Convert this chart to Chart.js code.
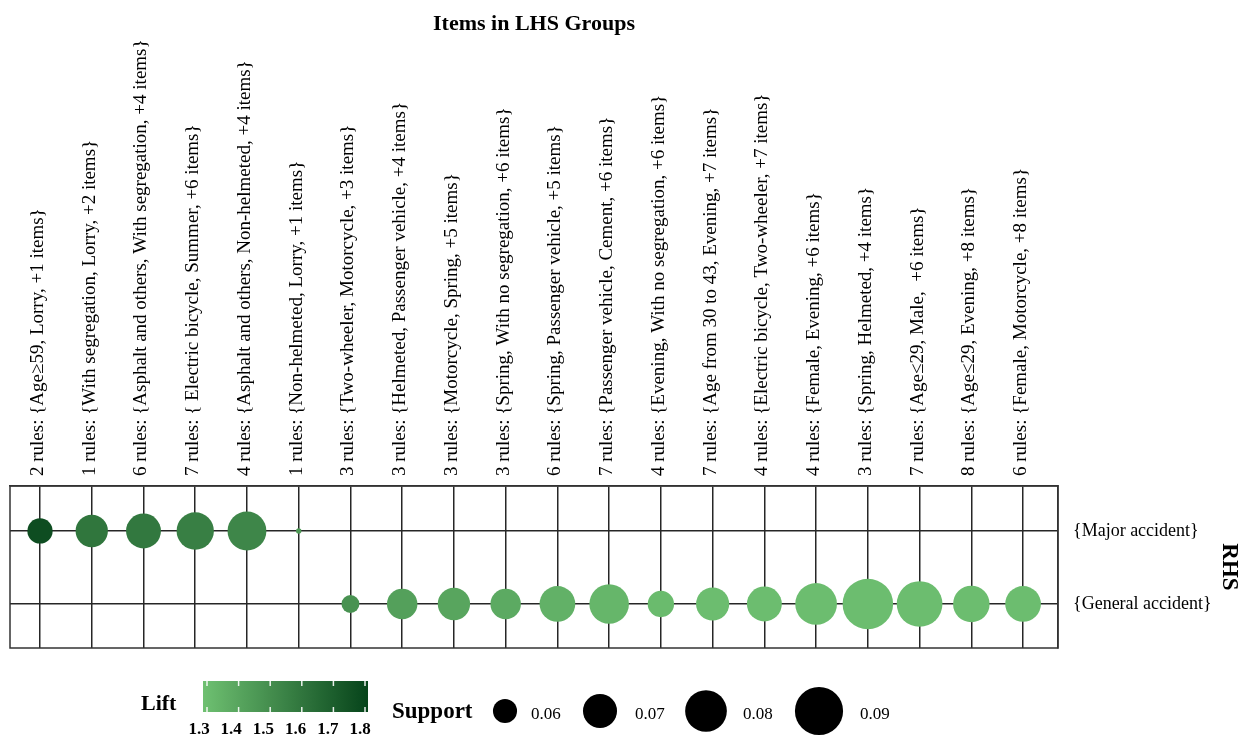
<!DOCTYPE html>
<html><head><meta charset="utf-8">
<script src="https://cdn.jsdelivr.net/npm/chart.js@4.4.0/dist/chart.umd.min.js"></script>
<style>html,body{margin:0;padding:0;background:#fff;}#wrap{position:relative;width:1247px;height:740px;}</style>
</head><body><div id="wrap"><canvas id="c" width="1247" height="740"></canvas></div>
<script>
// ---- data ----
const lhsGroups = [
  '2 rules: {Age\u226559, Lorry, +1 items}',
  '1 rules: {With segregation, Lorry, +2 items}',
  '6 rules: {Asphalt and others, With segregation, +4 items}',
  '7 rules: { Electric bicycle, Summer, +6 items}',
  '4 rules: {Asphalt and others, Non-helmeted, +4 items}',
  '1 rules: {Non-helmeted, Lorry, +1 items}',
  '3 rules: {Two-wheeler, Motorcycle, +3 items}',
  '3 rules: {Helmeted, Passenger vehicle, +4 items}',
  '3 rules: {Motorcycle, Spring, +5 items}',
  '3 rules: {Spring, With no segregation, +6 items}',
  '6 rules: {Spring, Passenger vehicle, +5 items}',
  '7 rules: {Passenger vehicle, Cement, +6 items}',
  '4 rules: {Evening, With no segregation, +6 items}',
  '7 rules: {Age from 30 to 43, Evening, +7 items}',
  '4 rules: {Electric bicycle, Two-wheeler, +7 items}',
  '4 rules: {Female, Evening, +6 items}',
  '3 rules: {Spring, Helmeted, +4 items}',
  '7 rules: {Age\u226429, Male,  +6 items}',
  '8 rules: {Age\u226429, Evening, +8 items}',
  '6 rules: {Female, Motorcycle, +8 items}'
];
const rhsItems = ['{Major accident}', '{General accident}'];
const rhsIndex = [0,0,0,0,0,0,1,1,1,1,1,1,1,1,1,1,1,1,1,1];
const support = [0.061,0.068,0.071,0.074,0.076,0.0505,0.0555,0.066,0.068,0.066,0.072,0.077,0.062,0.069,0.071,0.080,0.094,0.086,0.073,0.072];
const lift    = [1.77,1.60,1.59,1.56,1.53,1.45,1.48,1.42,1.40,1.38,1.35,1.33,1.31,1.30,1.30,1.30,1.30,1.30,1.30,1.30];
const liftTicks = [1.3,1.4,1.5,1.6,1.7,1.8];
const supportTicks = [0.06,0.07,0.08,0.09];

// ---- encodings ----
const SERIF = "'Liberation Serif','Times New Roman',serif";
function liftColor(l){
  const lo=[108,189,111], hi=[8,70,28];
  let t=(l-1.3)/0.5; t=Math.max(-0.05,Math.min(1.05,t));
  const c=lo.map((v,i)=>Math.round(v+(hi[i]-v)*t));
  return `rgb(${c[0]},${c[1]},${c[2]})`;
}
function supportRadius(s){
  return Math.sqrt(Math.max(0,58000*(s-0.05)))/2;
}

const points = lhsGroups.map((g,i)=>({x:i, y:rhsIndex[i], s:support[i], l:lift[i]}));

const TICK_SIZE = 19, TICK_LH = 1.2;

const frame = {
  id:'frame',
  beforeDatasetsDraw(chart){
    const {ctx, chartArea:a} = chart;
    ctx.save();
    ctx.strokeStyle='#333'; ctx.lineWidth=1.5;
    ctx.strokeRect(a.left, a.top, a.right-a.left, a.bottom-a.top);
    ctx.restore();
  }
};

const legendPlugin = {
  id:'customLegend',
  afterDraw(chart){
    const ctx = chart.ctx;
    ctx.save();
    ctx.fillStyle='#000';
    ctx.textBaseline='middle';
    // Lift
    ctx.font = "bold 22px "+SERIF;
    ctx.textAlign='left';
    ctx.fillText('Lift', 141, 704);
    const x0=203, x1=368, y0=681, y1=712;
    const px = v => 207 + (v-1.3)/0.5*158;
    const g = ctx.createLinearGradient(x0,0,x1,0);
    for(let k=0;k<=20;k++){
      const xx = x0 + (x1-x0)*k/20;
      const v = 1.3 + (xx-207)/158*0.5;
      g.addColorStop(k/20, liftColor(v));
    }
    ctx.fillStyle=g;
    ctx.fillRect(x0,y0,x1-x0,y1-y0);
    ctx.strokeStyle='rgba(255,255,255,0.9)'; ctx.lineWidth=1.5;
    ctx.font = "bold 17px "+SERIF;
    ctx.textAlign='center';
    liftTicks.forEach((v,i)=>{
      const x=px(v);
      ctx.beginPath(); ctx.moveTo(x,y0); ctx.lineTo(x,y0+5); ctx.moveTo(x,y1-5); ctx.lineTo(x,y1); ctx.stroke();
      ctx.fillStyle='#000';
      ctx.fillText(v.toFixed(1), 199 + i*32.2, 730);
    });
    // Support
    ctx.font = "bold 23px "+SERIF;
    ctx.textAlign='left';
    ctx.fillText('Support', 392, 712);
    const cx=[505,600,706,819], lx=[531,635,743,860];
    ctx.font = "17px "+SERIF;
    supportTicks.forEach((s,i)=>{
      ctx.beginPath(); ctx.arc(cx[i],711,supportRadius(s),0,Math.PI*2); ctx.fillStyle='#000'; ctx.fill();
      ctx.fillText(s.toFixed(2), lx[i], 715);
    });
    ctx.restore();
  }
};

new Chart(document.getElementById('c'), {
  type:'bubble',
  data:{datasets:[{
    data: points,
    radius: c => supportRadius(c.raw ? c.raw.s : 0.06),
    backgroundColor: c => liftColor(c.raw ? c.raw.l : 1.3),
    borderWidth:0,
    hoverRadius:0
  }]},
  options:{
    responsive:false, devicePixelRatio:1, animation:false, events:[],
    layout:{autoPadding:false, padding:{left:10,right:0,top:0,bottom:92}},
    plugins:{legend:{display:false},tooltip:{enabled:false}},
    scales:{
      x:{
        type:'linear', position:'top', min:-0.58, max:19.675,
        afterBuildTicks: s => { s.ticks = lhsGroups.map((_,i)=>({value:i})); },
        afterFit: s => { s.height = 486; s.paddingLeft = 0; s.paddingRight = 0; },
        ticks:{autoSkip:false, minRotation:90, maxRotation:90, padding:10, color:'#000',
          labelOffset: TICK_SIZE*TICK_LH - 2,
          font:{family:SERIF,size:TICK_SIZE,lineHeight:TICK_LH},
          callback: v => lhsGroups[Math.round(v)]},
        grid:{color:'#262626', lineWidth:1.5, drawTicks:false},
        border:{display:true, color:'#333', width:1.5},
        title:{display:true, text:'Items in LHS Groups', color:'#000',
          font:{family:SERIF,size:22,weight:'bold'}, padding:{top:11,bottom:0}}
      },
      y:{
        type:'linear', position:'right', reverse:true, min:-0.616, max:1.603,
        afterBuildTicks: s => { s.ticks = rhsItems.map((_,i)=>({value:i})); },
        afterFit: s => { s.width = 189; },
        ticks:{padding:15, color:'#000', font:{family:SERIF,size:18},
          callback: v => rhsItems[Math.round(v)]},
        grid:{color:'#262626', lineWidth:1.5, drawTicks:false},
        border:{display:true, color:'#333', width:1.5},
        title:{display:true, text:'RHS', color:'#000',
          font:{family:SERIF,size:23,weight:'bold'}, padding:{top:4,bottom:0}}
      }
    }
  },
  plugins:[frame, legendPlugin]
});
</script></body></html>
